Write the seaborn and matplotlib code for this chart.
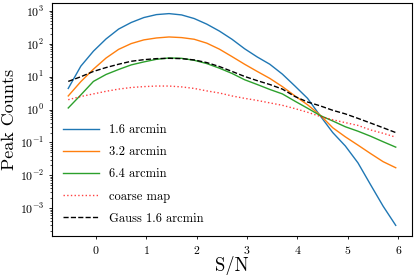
import numpy as np
import pandas as pd
import matplotlib
matplotlib.use('Agg')
import matplotlib.pyplot as plt
import seaborn as sns

"""
Peak counts vs S/N for several smoothing scales (values read off the figure).
"""
sn = [-0.55, -0.30, -0.05, 0.20, 0.45, 0.70, 0.95, 1.20, 1.45, 1.70, 1.95,
      2.20, 2.45, 2.70, 2.95, 3.20, 3.45, 3.70, 3.95, 4.20, 4.45, 4.70,
      4.95, 5.20, 5.45, 5.70, 5.95]

peaks_16 = [4.4, 21, 60, 141, 282, 447, 631, 776, 832, 759, 589, 398, 245,
            138, 71, 40, 24, 12, 5.2, 2.2, 0.65, 0.20, 0.078, 0.024, 0.0052,
            0.00115, 0.0003]
peaks_32 = [2.6, 7.1, 17, 37, 68, 102, 132, 151, 162, 155, 138, 105, 69, 41,
            24, 14.5, 8.9, 5.0, 2.6, 1.4, 0.68, 0.28, 0.148, 0.083, 0.046,
            0.026, 0.017]
peaks_64 = [1.12, 2.8, 7.2, 11.7, 16.6, 22.9, 28.2, 33.9, 37.2, 36.3, 31.6,
            25.1, 18.2, 12.6, 8.1, 5.8, 4.1, 3.0, 1.8, 1.1, 0.66, 0.45, 0.30,
            0.22, 0.155, 0.105, 0.072]
peaks_coarse = [2.0, 2.5, 3.0, 3.6, 4.2, 4.7, 5.0, 5.2, 5.2, 4.9, 4.4, 3.7,
                3.2, 2.6, 2.2, 1.9, 1.6, 1.35, 1.07, 0.83, 0.62, 0.49, 0.40,
                0.33, 0.24, 0.19, 0.145]
peaks_gauss = [7.2, 10, 14.5, 19, 24, 29.5, 33, 35.5, 36.3, 35.5, 32.4, 26.9,
               20.4, 14.5, 10.2, 7.6, 5.8, 4.2, 2.5, 1.7, 1.3, 0.95, 0.74,
               0.54, 0.39, 0.28, 0.20]

labels = ['1.6 arcmin', '3.2 arcmin', '6.4 arcmin', 'coarse map', 'Gauss 1.6 arcmin']
series = [peaks_16, peaks_32, peaks_64, peaks_coarse, peaks_gauss]
colors = ['tab:blue', 'tab:orange', 'tab:green', 'red', 'black']
styles = ['-', '-', '-', ':', '--']
yticks = [1e-3, 1e-2, 1e-1, 1e0, 1e1, 1e2, 1e3]

plt.rcParams['font.family'] = 'serif'
plt.rcParams['font.serif'] = ['cmr10', 'DejaVu Serif']
plt.rcParams['mathtext.fontset'] = 'cm'
plt.rcParams['axes.unicode_minus'] = False
plt.rcParams['axes.formatter.use_mathtext'] = True

fig = plt.figure(figsize=(4.15, 2.75), dpi=100)
ax = fig.add_axes([0.125, 0.142, 0.868, 0.847])

for lab, vals, col, ls in zip(labels, series, colors, styles):
    df = pd.DataFrame({'S/N': sn, 'counts': vals})
    sns.lineplot(data=df, x='S/N', y='counts', ax=ax, color=col,
                 linestyle=ls, linewidth=1.0, label=lab,
                 alpha=0.75 if ls == ':' else 1.0)

ax.set_yscale('log')
ax.set_yticks(yticks)
ax.set_xticks(np.arange(0, 7))
ax.tick_params(labelsize=8.5, width=0.6, length=2.5, pad=3)
ax.tick_params(which='minor', width=0.5, length=1.5)
ax.set_xlabel('S/N', fontsize=13.5, labelpad=0)
ax.set_ylabel('Peak Counts', fontsize=13, labelpad=2)
for s in ax.spines.values():
    s.set_linewidth(0.8)

ax.legend(loc='lower left', frameon=False, fontsize=9, handlelength=2.9,
          labelspacing=0.8, borderaxespad=0.5)

fig.savefig('out.png', dpi=100)
